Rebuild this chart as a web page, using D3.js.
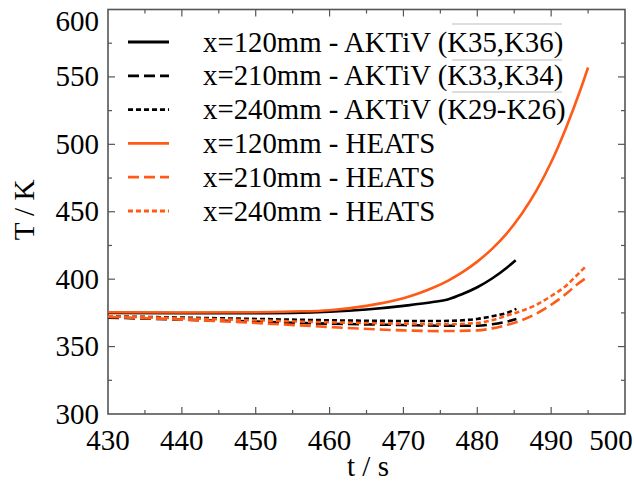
<!DOCTYPE html>
<html>
<head>
<meta charset="utf-8">
<title>T over t</title>
<script src="https://cdn.jsdelivr.net/npm/d3@7/dist/d3.min.js"></script>
<style>
  body { margin: 0; background: #fff; }
  text { font-family: "Liberation Serif", "Times New Roman", serif; fill: #000; }
</style>
</head>
<body>
<div id="chart"></div>
<script>
// tick labels
var xTicks = [430, 440, 450, 460, 470, 480, 490, 500];
var yTicks = [300, 350, 400, 450, 500, 550, 600];

// series: [t in s, T in K]
var aktiv120 = [[430,375],[440,374.8],[450,374.8],[455,375],[460,375.8],[465,377.5],[470,380.2],[474,383],[476,385],[478,389],[480,394],[482,400.5],[484,408.5],[485.2,414]];
var aktiv210 = [[430,371.5],[440,370],[450,368.5],[460,367],[470,366],[475,365.5],[480,365.5],[482,366.5],[484,368.5],[485.3,370.5]];
var aktiv240 = [[430,372.5],[440,371.5],[450,370.5],[460,369.5],[470,369],[475,369],[478,369.5],[480,370.5],[482,372.5],[484,375],[485.3,378]];
var heats120 = [[430,375.5],[440,375.3],[450,375.5],[455,376],[460,377],[465,380.2],[470,385.8],[472,389.3],[474,393.6],[476,398.8],[478,405.2],[480,413],[482,422.5],[484,434],[486,448.3],[488,465.6],[490,486.7],[492,512],[494,541],[495,557]];
var heats210 = [[430,372],[440,370],[450,367.5],[460,364.5],[470,362],[475,361.5],[480,362],[482,363.5],[484,366],[486,369.5],[488,374.5],[490,381],[492,389],[493.5,396],[495,402]];
var heats240 = [[430,372.5],[440,371],[450,369.5],[460,368],[470,367],[475,366.5],[480,367.5],[482,369.5],[484,373],[486,376.5],[488,381],[490,387.5],[492,395],[493.5,403],[494.6,409]];

var seriesNames = ["x=120mm - AKTiV (K35,K36)", "x=210mm - AKTiV (K33,K34)", "x=240mm - AKTiV (K29-K26)",
                   "x=120mm - HEATS", "x=210mm - HEATS", "x=240mm - HEATS"];
var seriesData = [aktiv120, aktiv210, aktiv240, heats120, heats210, heats240];

var orange = "#ff5a16";
var styles = [
  {color: "#000", dash: null},
  {color: "#000", dash: "11,5"},
  {color: "#000", dash: "5,3"},
  {color: orange, dash: null},
  {color: orange, dash: "11,5"},
  {color: orange, dash: "5,3"}
];

var width = 634, height = 482;
// plot frame (don't call these "top" - clashes with window.top)
var pl = 108, pr = 625, pt = 9.5, pb = 414;

var svg = d3.select("#chart").append("svg")
  .attr("width", width)
  .attr("height", height);

var x = d3.scaleLinear().domain([430, 500]).range([pl, pr]);
var y = d3.scaleLinear().domain([300, 600]).range([pb, pt]);

// ticks, inward on all four sides
var frameColor = "#555";
var g = svg.append("g");
d3.range(435, 500, 5).forEach(function(t) {
  var len = (t % 10 === 0) ? 7 : 4;
  g.append("line").attr("x1", x(t)).attr("x2", x(t)).attr("y1", pb).attr("y2", pb - len)
    .attr("stroke", frameColor).attr("stroke-width", 1.2);
  g.append("line").attr("x1", x(t)).attr("x2", x(t)).attr("y1", pt).attr("y2", pt + len)
    .attr("stroke", frameColor).attr("stroke-width", 1.2);
});
d3.range(325, 600, 25).forEach(function(v) {
  var len = (v % 50 === 0) ? 7 : 4;
  g.append("line").attr("x1", pl).attr("x2", pl + len).attr("y1", y(v)).attr("y2", y(v))
    .attr("stroke", frameColor).attr("stroke-width", 1.2);
  g.append("line").attr("x1", pr).attr("x2", pr - len).attr("y1", y(v)).attr("y2", y(v))
    .attr("stroke", frameColor).attr("stroke-width", 1.2);
});

// frame
svg.append("rect")
  .attr("x", pl).attr("y", pt)
  .attr("width", pr - pl).attr("height", pb - pt)
  .attr("fill", "none").attr("stroke", frameColor).attr("stroke-width", 1.6);

// tick labels
svg.selectAll("text.xt").data(xTicks).enter().append("text")
  .attr("class", "xt")
  .attr("x", function(d) { return Math.min(x(d), 611); })
  .attr("y", 450)
  .attr("text-anchor", "middle")
  .style("font-size", "29px")
  .text(function(d) { return d; });

svg.selectAll("text.yt").data(yTicks).enter().append("text")
  .attr("class", "yt")
  .attr("x", 99)
  .attr("y", function(d) { return Math.max(y(d), 21) + 9.5; })
  .attr("text-anchor", "end")
  .style("font-size", "29px")
  .text(function(d) { return d; });

// axis titles
svg.append("text")
  .attr("x", 368).attr("y", 476)
  .attr("text-anchor", "middle")
  .style("font-size", "29px")
  .text("t / s");

svg.append("text")
  .attr("transform", "translate(34,210) rotate(-90)")
  .attr("text-anchor", "middle")
  .style("font-size", "29px")
  .text("T / K");

// curves
var line = d3.line()
  .x(function(d) { return x(d[0]); })
  .y(function(d) { return y(d[1]); })
  .curve(d3.curveMonotoneX);

svg.append("g").selectAll("path").data(seriesData).enter().append("path")
  .attr("d", line)
  .attr("fill", "none")
  .attr("stroke", function(d, i) { return styles[i].color; })
  .attr("stroke-width", 2.6)
  .attr("stroke-dasharray", function(d, i) { return styles[i].dash; });

// legend
var leg = svg.append("g");
seriesNames.forEach(function(name, i) {
  var cy = 42 + i * 33.8;
  leg.append("line")
    .attr("x1", 128).attr("x2", 169).attr("y1", cy).attr("y2", cy)
    .attr("stroke", styles[i].color)
    .attr("stroke-width", 2.8)
    .attr("stroke-dasharray", styles[i].dash);
  leg.append("text")
    .attr("x", 203).attr("y", cy + 9.5)
    .style("font-size", "28.8px")
    .text(name);
});

// faint marks around the thermocouple labels, as in the picture
[[24, 452, 562], [60, 452, 562], [92, 452, 562]].forEach(function(m) {
  leg.append("line")
    .attr("x1", m[1]).attr("x2", m[2]).attr("y1", m[0]).attr("y2", m[0])
    .attr("stroke", "#bbb").attr("stroke-width", 1);
});
</script>
</body>
</html>
